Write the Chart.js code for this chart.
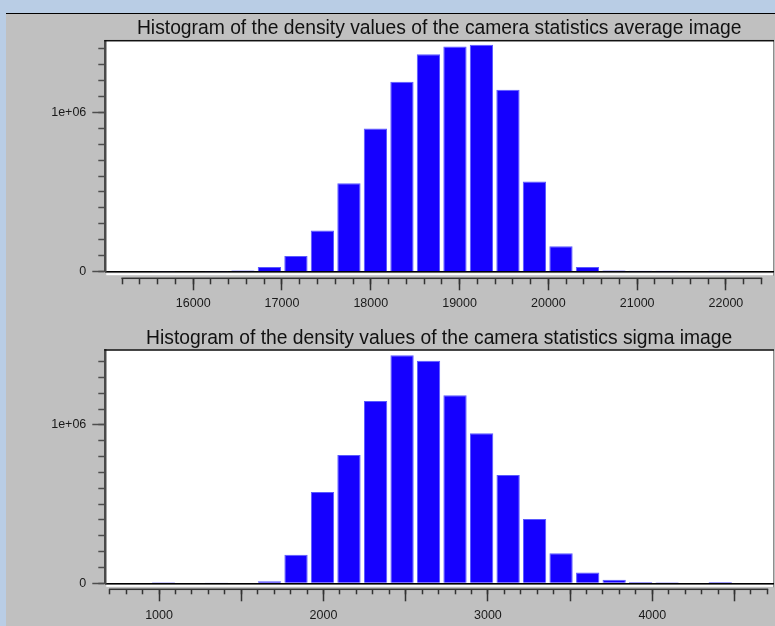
<!DOCTYPE html>
<html>
<head>
<meta charset="utf-8">
<title>Camera statistics histograms</title>
<script src="https://cdn.jsdelivr.net/npm/chart.js@4.4.1/dist/chart.umd.min.js"></script>
<style>
  html, body { margin: 0; padding: 0; }
  body { width: 775px; height: 626px; background: #b9cde5; position: relative; overflow: hidden; }
  #panel { position: absolute; left: 6px; top: 13px; right: 0; bottom: 0; background: #c0c0c0; border-top: 1px solid #000; }
  canvas { position: absolute; left: 0; }
  #avgChart { top: 13px; }
  #sigmaChart { top: 323px; }
</style>
</head>
<body>
<div id="panel"></div>
<canvas id="avgChart" width="775" height="310"></canvas>
<canvas id="sigmaChart" width="775" height="303"></canvas>
<script>
// Average image: bin centres (density) and pixel counts
const avgTitle  = "Histogram of the density values of the camera statistics average image";
const avgBins   = [15664, 15963, 16261, 16560, 16858, 17157, 17455, 17754, 18052, 18351, 18649,
                   18948, 19246, 19545, 19843, 20142, 20440, 20739, 21037, 21336, 21634, 21933];
const avgCounts = [4000, 0, 5000, 8000, 29000, 98000, 259000, 554000, 898000, 1191000, 1364000,
                   1413000, 1423000, 1141000, 566000, 160000, 29000, 8000, 6000, 6000, 0, 6000];
const avgXMajor  = [16000, 17000, 18000, 19000, 20000, 21000, 22000];
const avgXLabels = [16000, 17000, 18000, 19000, 20000, 21000, 22000];

// Sigma image: bin centres (density) and pixel counts
const sigmaTitle  = "Histogram of the density values of the camera statistics sigma image";
const sigmaBins   = [1027, 1188, 1349, 1511, 1672, 1833, 1994, 2155, 2317, 2478, 2639,
                     2800, 2962, 3123, 3284, 3445, 3607, 3768, 3929, 4090, 4251, 4413];
const sigmaCounts = [6000, 0, 5000, 4000, 13000, 181000, 577000, 810000, 1152000, 1440000, 1406000,
                     1188000, 948000, 684000, 406000, 190000, 68000, 23000, 8000, 6000, 0, 8000];
const sigmaXMajor  = [1000, 1500, 2000, 2500, 3000, 3500, 4000, 4500];
const sigmaXLabels = [1000, 2000, 3000, 4000];

// count axis: labelled ticks
const yMajorTicks = [0, 1000000];

const FONT = "'Liberation Sans', Arial, Helvetica, sans-serif";
const BAR_BLUE = "#1500ff";

// evenly spaced small ticks between two values
function stepTicks(from, to, step) {
  const out = [];
  for (let v = from; v <= to + step / 2; v += step) out.push({ value: Math.round(v) });
  return out;
}

// y labels in the "1e+06" style
function expLabel(v) {
  if (v === 0) return "0";
  return v.toExponential().replace(/e([+-])(\d)$/, "e$10$2");
}

// white plot box with sunken frame, plus the x axis line spanning the tick range
const plotFrame = {
  id: "plotFrame",
  beforeDraw(chart) {
    const { ctx, chartArea: a } = chart;
    ctx.save();
    ctx.fillStyle = "#fff";
    ctx.fillRect(a.left, a.top, a.right - a.left, a.bottom - a.top);
    ctx.fillRect(a.left + 1, a.bottom + 1.5, a.right - a.left - 1, 2);
    ctx.fillStyle = "#8e8e8e";
    ctx.fillRect(a.right, a.top, 1, a.bottom - a.top + 4);
    ctx.restore();
  },
  afterDraw(chart) {
    const { ctx, chartArea: a } = chart;
    ctx.save();
    ctx.fillStyle = "#111";
    ctx.fillRect(a.left - 1, a.top - 1, a.right - a.left + 2, 1.5);
    const s = chart.scales.xMinor;
    const x0 = s.getPixelForValue(s.ticks[0].value);
    const x1 = s.getPixelForValue(s.ticks[s.ticks.length - 1].value);
    ctx.fillStyle = "#333";
    ctx.fillRect(x0 - 0.75, s.top - 0.75, x1 - x0 + 1.5, 1.5);
    ctx.restore();
  }
};

function makeHistogram(id, o) {
  const xCommon = {
    type: "linear", axis: "x", position: "bottom",
    min: o.xMin, max: o.xMax, offset: false,
  };
  const yCommon = {
    type: "linear", axis: "y", position: "left",
    min: 0, max: o.yMax,
  };

  return new Chart(document.getElementById(id), {
    type: "bar",
    data: {
      datasets: [{
        data: o.bins.map((b, i) => ({ x: b, y: o.counts[i] })),
        backgroundColor: BAR_BLUE,
        borderColor: "#5a5aff",
        borderWidth: 1,
        barPercentage: 0.88,
        categoryPercentage: 1,
      }],
    },
    plugins: [plotFrame],
    options: {
      responsive: false,
      animation: false,
      layout: { padding: { left: 0, right: 2, top: 0, bottom: 0 } },
      plugins: {
        legend: { display: false },
        tooltip: { enabled: false },
        title: {
          display: true,
          text: o.title,
          fullSize: false,
          color: "#111",
          font: { family: FONT, size: 19.3, weight: "normal", lineHeight: 1.2 },
          padding: o.titlePad,
        },
      },
      scales: {
        // data axis; its border is the zero line, its height the gap to the tick row
        x: {
          ...xCommon, weight: 0,
          ticks: { display: false, includeBounds: false },
          grid: { drawOnChartArea: false, drawTicks: false, offset: false },
          border: { display: true, color: "#000", width: 1.5 },
          afterFit: s => { s.height = o.gap; },
        },
        xMinor: {
          ...xCommon, weight: 1,
          ticks: { display: false },
          grid: { drawOnChartArea: false, tickLength: o.minorLen, tickColor: "#333", tickWidth: 1.5, offset: false },
          border: { display: false },
          afterBuildTicks: s => { s.ticks = stepTicks(o.minorFrom, o.minorTo, o.minorStep); },
          afterFit: s => { s.height = 0; },
        },
        xMajor: {
          ...xCommon, weight: 2,
          ticks: {
            autoSkip: false, maxRotation: 0,
            padding: o.labelPad, color: "#1a1a1a", font: { family: FONT, size: 12.5 },
            callback: v => (o.labels.includes(v) ? String(v) : ""),
          },
          grid: { drawOnChartArea: false, tickLength: 12, tickColor: "#333", tickWidth: 1.5, offset: false },
          border: { display: false },
          afterBuildTicks: s => { s.ticks = o.major.map(v => ({ value: v })); },
          afterFit: s => { s.height = o.axisHeight; },
        },
        y: {
          ...yCommon, weight: 0,
          ticks: { display: false },
          grid: { drawOnChartArea: false, tickLength: 7, tickColor: "#4d4d4d", tickWidth: 1.5 },
          border: { display: true, color: "#4a4a4a", width: 2.5 },
          afterBuildTicks: s => { s.ticks = stepTicks(0, 1400000, 100000); },
          afterFit: s => { s.width = 0; },
        },
        yMajor: {
          ...yCommon, weight: 1,
          ticks: {
            padding: 6, autoSkip: false,
            color: "#1a1a1a", font: { family: FONT, size: 12.5 },
            callback: v => expLabel(v),
          },
          grid: { drawOnChartArea: false, tickLength: 13, tickColor: "#4d4d4d", tickWidth: 1.5 },
          border: { display: false },
          afterBuildTicks: s => { s.ticks = yMajorTicks.map(v => ({ value: v })); },
          afterFit: s => { s.width = 105.3; },
        },
      },
    },
  });
}

makeHistogram("avgChart", {
  title: avgTitle, bins: avgBins, counts: avgCounts,
  xMin: 15010, xMax: 22530,
  minorFrom: 15200, minorTo: 22400, minorStep: 200, minorLen: 6,
  major: avgXMajor, labels: avgXLabels,
  yMax: 1447000,
  titlePad: { top: 4, bottom: 0.8 },
  gap: 6.6, axisHeight: 44.7, labelPad: 5.5,
});

makeHistogram("sigmaChart", {
  title: sigmaTitle, bins: sigmaBins, counts: sigmaCounts,
  xMin: 673, xMax: 4734,
  minorFrom: 700, minorTo: 4700, minorStep: 100, minorLen: 5,
  major: sigmaXMajor, labels: sigmaXLabels,
  yMax: 1472000,
  titlePad: { top: 3.9, bottom: 0.2 },
  gap: 6, axisHeight: 36.7, labelPad: 6.5,
});
</script>
</body>
</html>
